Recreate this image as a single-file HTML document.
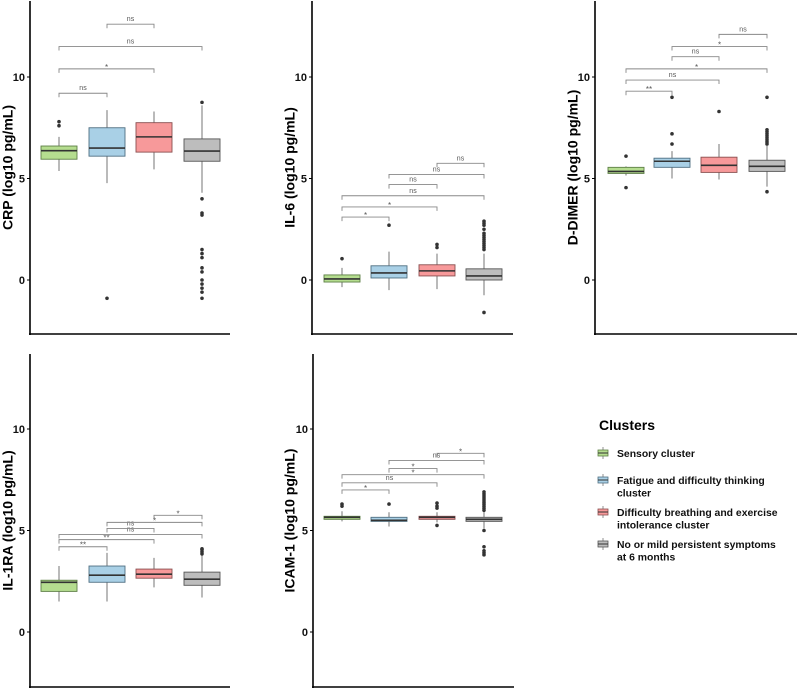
<!DOCTYPE html>
<html><head><meta charset="utf-8"><style>
body{margin:0;background:#fff;}
svg{display:block;font-family:"Liberation Sans",Arial,sans-serif;}
</style></head><body>
<svg id="chart" width="797" height="690" viewBox="0 0 797 690"></svg>
<script>
// ---- data ----
const clusterNames = ["Sensory cluster","Fatigue and difficulty thinking cluster","Difficulty breathing and exercise intolerance cluster","No or mild persistent symptoms at 6 months"];
const panelTitles = ["CRP (log10 pg/mL)","IL-6 (log10 pg/mL)","D-DIMER (log10 pg/mL)","IL-1RA (log10 pg/mL)","ICAM-1 (log10 pg/mL)"];
const yTicks = [0,5,10];
// box stats: [lowWhisker, q1, median, q3, highWhisker]
const crpBoxes = [[5.37,5.95,6.37,6.6,7.05],[4.77,6.1,6.5,7.5,8.37],[5.45,6.3,7.05,7.75,8.3],[4.3,5.85,6.35,6.95,8.6]];
const crpOutliers = [[7.6,7.8],[-0.9],[],[8.75,4.0,3.3,3.2,1.5,1.3,1.1,0.6,0.4,0,-0.2,-0.4,-0.6,-0.9]];
const il6Boxes = [[-0.35,-0.1,0.05,0.25,0.6],[-0.5,0.1,0.35,0.7,1.4],[-0.45,0.2,0.45,0.75,1.3],[-0.75,0,0.2,0.55,1.3]];
const il6Outliers = [[1.05],[2.7],[1.6,1.75],[1.5,1.6,1.7,1.8,1.9,2.0,2.1,2.2,2.3,2.5,2.7,2.8,2.9,-1.6]];
const ddBoxes = [[5.15,5.25,5.35,5.55,5.6],[5.0,5.55,5.85,6.0,6.35],[4.95,5.3,5.65,6.05,6.7],[4.6,5.35,5.6,5.9,6.6]];
const ddOutliers = [[6.1,4.55],[6.7,7.2,9.0],[8.3],[6.7,6.8,6.9,7.0,7.1,7.2,7.3,7.4,9.0,4.35]];
const il1Boxes = [[1.5,2.0,2.45,2.55,3.25],[1.5,2.45,2.8,3.25,3.9],[2.2,2.65,2.85,3.1,3.65],[1.7,2.3,2.6,2.95,3.8]];
const il1Outliers = [[],[],[],[3.85,3.95,4.05,4.1]];
const icamBoxes = [[5.45,5.55,5.65,5.7,5.95],[5.2,5.45,5.5,5.65,5.9],[5.4,5.55,5.65,5.7,5.9],[5.1,5.45,5.55,5.65,5.95]];
const icamOutliers = [[6.2,6.3],[6.3],[5.25,6.1,6.2,6.35],[6.0,6.1,6.2,6.3,6.4,6.5,6.6,6.7,6.8,6.9,5.0,3.8,3.9,4.0,4.2]];
// comparisons: [groupA, groupB, yValue, label]
const crpComps = [[0,1,9.2,"ns"],[0,2,10.4,"*"],[0,3,11.5,"ns"],[1,2,12.6,"ns"]];
const il6Comps = [[0,1,3.1,"*"],[0,2,3.6,"*"],[0,3,4.15,"ns"],[1,2,4.7,"ns"],[1,3,5.2,"ns"],[2,3,5.75,"ns"]];
const ddComps = [[0,1,9.3,"**"],[0,2,9.85,"ns"],[0,3,10.4,"*"],[1,2,11.0,"ns"],[1,3,11.5,"*"],[2,3,12.1,"ns"]];
const il1Comps = [[0,1,4.2,"**"],[0,2,4.55,"**"],[0,3,4.8,"ns"],[1,2,5.1,"ns"],[1,3,5.4,"*"],[2,3,5.75,"*"]];
const icamComps = [[0,1,7.0,"*"],[0,2,7.35,"ns"],[0,3,7.75,"*"],[1,2,8.05,"*"],[1,3,8.45,"ns"],[2,3,8.8,"*"]];

const fills = ["#b5dd8f","#a9d0e6","#f7999a","#bdbdbd"];
const strokes = ["#5d7f45","#4f6f82","#8a4f50","#555555"];
const NS = "http://www.w3.org/2000/svg";
const svg = document.getElementById("chart");
function mk(tag, attrs, parent){const e=document.createElementNS(NS,tag);for(const k in attrs)e.setAttribute(k,attrs[k]);(parent||svg).appendChild(e);return e;}

const panels = [
 {id:"crp",boxes:crpBoxes,outs:crpOutliers,comps:crpComps,ax:30,right:230,top:1,bottom:334,zero:280,cx:[59,107,154,202],bw:36,tx:9},
 {id:"il6",boxes:il6Boxes,outs:il6Outliers,comps:il6Comps,ax:312,right:513,top:1,bottom:334,zero:280,cx:[342,389,437,484],bw:36,tx:291},
 {id:"ddimer",boxes:ddBoxes,outs:ddOutliers,comps:ddComps,ax:595,right:797,top:1,bottom:334,zero:280,cx:[626,672,719,767],bw:36,tx:574},
 {id:"il1ra",boxes:il1Boxes,outs:il1Outliers,comps:il1Comps,ax:30,right:230,top:354,bottom:687,zero:632,cx:[59,107,154,202],bw:36,tx:9},
 {id:"icam1",boxes:icamBoxes,outs:icamOutliers,comps:icamComps,ax:313,right:514,top:354,bottom:687,zero:632,cx:[342,389,437,484],bw:36,tx:291}
];
const scale = 20.3;

panels.forEach((p,pi)=>{
  const g = mk("g",{});
  
  
  const y = v => p.zero - v*scale;
  const ya = mk("line",{x1:p.ax,y1:p.top,x2:p.ax,y2:p.bottom+1,stroke:"#000","stroke-width":1.6},g);
  
  
  const xa = mk("line",{x1:p.ax-1,y1:p.bottom,x2:p.right,y2:p.bottom,stroke:"#000","stroke-width":1.6},g);
  
  
  yTicks.forEach(t=>{
    mk("line",{x1:p.ax-3,y1:y(t),x2:p.ax,y2:y(t),stroke:"#000","stroke-width":1},g);
    const tl = mk("text",{x:p.ax-5,y:y(t)+4,"text-anchor":"end","font-size":11,"font-weight":"bold",fill:"#111"},g);
    tl.textContent = t;
    
    
  });
  const cy = (p.top+p.bottom)/2;
  const tt = mk("text",{x:p.tx,y:cy,"text-anchor":"middle","font-size":14,"font-weight":"bold",fill:"#000",transform:`rotate(-90 ${p.tx} ${cy})`,"dominant-baseline":"middle"},g);
  tt.textContent = panelTitles[pi];
  
  
  p.boxes.forEach((b,i)=>{
    const x=p.cx[i], hw=p.bw/2;
    const bg = mk("g",{},g);
    
    
    mk("line",{x1:x,y1:y(b[0]),x2:x,y2:y(b[1]),stroke:"#666","stroke-width":0.9},bg);
    mk("line",{x1:x,y1:y(b[3]),x2:x,y2:y(b[4]),stroke:"#666","stroke-width":0.9},bg);
    mk("rect",{x:x-hw,y:y(b[3]),width:p.bw,height:Math.max(1,y(b[1])-y(b[3])),fill:fills[i],stroke:strokes[i],"stroke-width":0.9},bg);
    mk("line",{x1:x-hw,y1:y(b[2]),x2:x+hw,y2:y(b[2]),stroke:"#333","stroke-width":1.6},bg);
    p.outs[i].forEach(o=>{
      const c = mk("circle",{cx:x,cy:y(o),r:1.8,fill:"#333"},bg);
      
      
    });
  });
  p.comps.forEach(c=>{
    const x1=p.cx[c[0]], x2=p.cx[c[1]], yy=y(c[2]);
    const cg = mk("g",{},g);
    
    
    mk("path",{d:`M${x1},${yy+4}V${yy}H${x2}V${yy+4}`,fill:"none",stroke:"#888","stroke-width":0.9},cg);
    const st = c[3]==="ns";
    const lt = mk("text",{x:(x1+x2)/2,y:st?yy-3:yy+1,"text-anchor":"middle","font-size":st?7:8,fill:"#555"},cg);
    lt.textContent = c[3];
  });
});

const lg = mk("g",{});


const lt = mk("text",{x:599,y:430,"font-size":14,"font-weight":"bold",fill:"#000"},lg);
lt.textContent = "Clusters";


const legendLines = [["Sensory cluster"],["Fatigue and difficulty thinking","cluster"],["Difficulty breathing and exercise","intolerance cluster"],["No or mild persistent symptoms","at 6 months"]];
const legendY = [453,480,512,544];
legendLines.forEach((lines,i)=>{
  const eg = mk("g",{},lg);
  
  
  const ky = legendY[i];
  mk("line",{x1:603,y1:ky-6,x2:603,y2:ky+6,stroke:"#777","stroke-width":0.8},eg);
  mk("rect",{x:598,y:ky-3,width:10,height:6,fill:fills[i],stroke:strokes[i],"stroke-width":0.8},eg);
  mk("line",{x1:598,y1:ky,x2:608,y2:ky,stroke:"#333","stroke-width":1},eg);
  lines.forEach((s,j)=>{
    const t = mk("text",{x:617,y:ky+4+j*12.5,"font-size":10.4,"font-weight":"bold",fill:"#111"},eg);
    t.textContent = s;
  });
});
</script>
</body></html>
